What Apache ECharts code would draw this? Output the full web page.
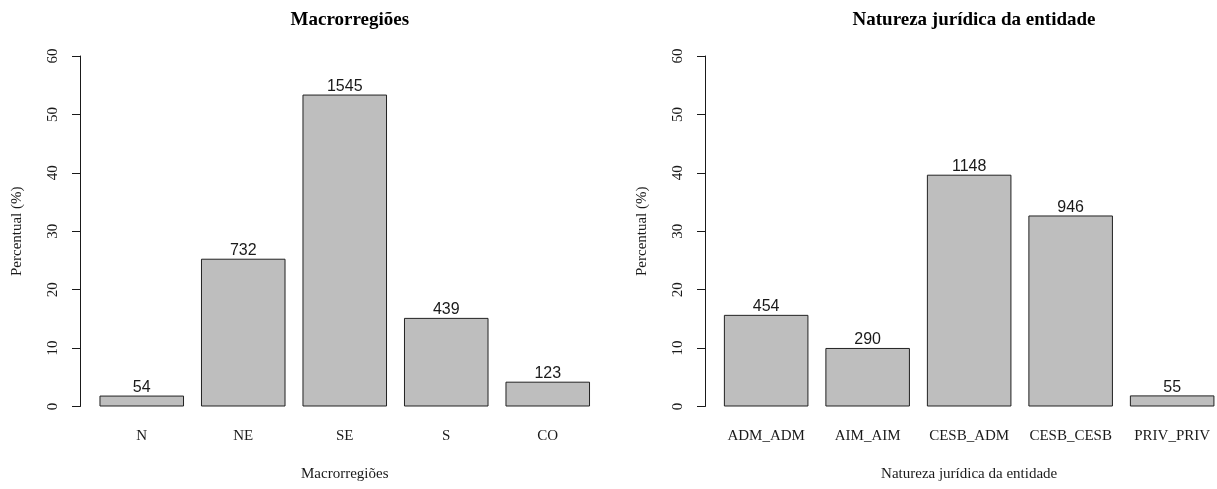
<!DOCTYPE html>
<html><head><meta charset="utf-8">
<script src="https://cdn.jsdelivr.net/npm/echarts@6/dist/echarts.min.js"></script>
<style>html,body{margin:0;padding:0;background:#fff}#c{width:1217px;height:489px}</style>
</head><body><div id="c"></div>
<script>
const regioes = ['N', 'NE', 'SE', 'S', 'CO'];
const regioesPct = [1.87, 25.30, 53.40, 15.17, 4.25];
const regioesN = [54, 732, 1545, 439, 123];
const natureza = ['ADM_ADM', 'AIM_AIM', 'CESB_ADM', 'CESB_CESB', 'PRIV_PRIV'];
const naturezaPct = [15.69, 10.02, 39.68, 32.70, 1.90];
const naturezaN = [454, 290, 1148, 946, 55];
const yTicks = [0, 10, 20, 30, 40, 50, 60];

const serif = '"Liberation Serif", "DejaVu Serif", serif';
const sans = '"Liberation Sans", Arial, sans-serif';
const ink = '#1a1a1a';

function xAx(idx, cats, name) {
  return {
    type: 'category', gridIndex: idx, data: cats,
    axisLine: {show: false}, axisTick: {show: false}, splitLine: {show: false},
    axisLabel: {fontFamily: serif, fontSize: 15, color: ink, margin: 22, interval: 0, hideOverlap: false},
    name: name, nameLocation: 'middle', nameGap: 60,
    nameTextStyle: {fontFamily: serif, fontSize: 15, color: ink}
  };
}
function yAx(idx, offset) {
  return {
    type: 'value', gridIndex: idx, min: 0, max: 60, interval: 10, offset: offset,
    axisLine: {show: true, lineStyle: {color: ink, width: 1}},
    axisTick: {show: true, length: 8, lineStyle: {color: ink, width: 1}},
    splitLine: {show: false},
    axisLabel: {rotate: 90, fontFamily: serif, fontSize: 15, color: ink, margin: 19,
      formatter: v => yTicks.includes(v) ? String(v) : ''},
    name: 'Percentual (%)', nameLocation: 'middle', nameGap: 55,
    nameTextStyle: {fontFamily: serif, fontSize: 15, color: ink}
  };
}
function ser(idx, vals, counts) {
  return {
    type: 'bar', xAxisIndex: idx, yAxisIndex: idx, data: vals,
    barCategoryGap: '16.7%',
    itemStyle: {color: '#bebebe', borderColor: '#222', borderWidth: 1},
    label: {show: true, position: 'top', distance: 0, fontFamily: sans, fontSize: 16, color: ink,
      formatter: p => String(counts[p.dataIndex])},
    emphasis: {disabled: true}, animation: false
  };
}

const chart = echarts.init(document.getElementById('c'), null, {renderer: 'canvas'});
chart.setOption({
  backgroundColor: '#fff',
  animation: false,
  title: [
    {text: 'Macrorregiões', left: 344.8, top: 6, textAlign: 'center',
     textStyle: {fontFamily: serif, fontSize: 19, fontWeight: 'bold', color: '#000'}},
    {text: 'Natureza jurídica da entidade', left: 969, top: 6, textAlign: 'center',
     textStyle: {fontFamily: serif, fontSize: 19, fontWeight: 'bold', color: '#000'}}
  ],
  grid: [
    {left: 91, top: 56, width: 507.5, height: 350.5, containLabel: false, outerBoundsMode: 'none'},
    {left: 715.4, top: 56, width: 507.5, height: 350.5, containLabel: false, outerBoundsMode: 'none'}
  ],
  xAxis: [xAx(0, regioes, 'Macrorregiões'), xAx(1, natureza, 'Natureza jurídica da entidade')],
  yAxis: [yAx(0, 11), yAx(1, 10.4)],
  series: [ser(0, regioesPct, regioesN), ser(1, naturezaPct, naturezaN)]
});
</script></body></html>
